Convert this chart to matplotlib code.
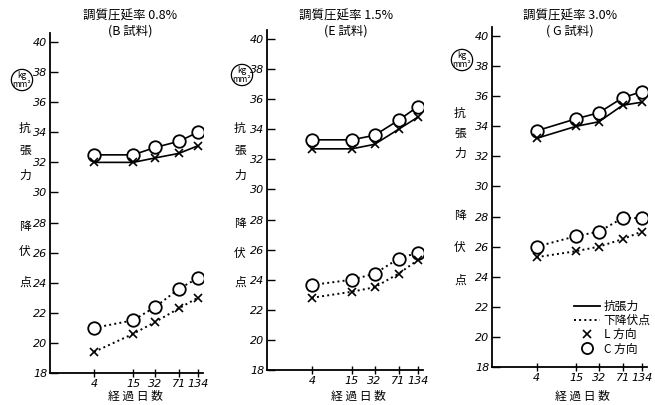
import matplotlib
matplotlib.use("Agg")
import matplotlib.pyplot as plt
from matplotlib.lines import Line2D

plt.rcParams['font.family'] = ['Noto Sans CJK JP', 'DejaVu Sans']

days = [4, 15, 32, 71, 134]
day_labels = ['4', '15', '32', '71', '134']
yticks = [18, 20, 22, 24, 26, 28, 30, 32, 34, 36, 38, 40]

titles = ['調質圧延率 0.8%\n(B 試料)', '調質圧延率 1.5%\n(E 試料)', '調質圧延率 3.0%\n( G 試料)']

# tensile strength, kg/mm2 (C = circles, L = crosses)
tens_C = [[32.5, 32.5, 33.0, 33.4, 34.0],
          [33.3, 33.3, 33.6, 34.6, 35.5],
          [33.7, 34.5, 34.9, 35.9, 36.3]]
tens_L = [[32.0, 32.0, 32.3, 32.6, 33.1],
          [32.7, 32.7, 33.0, 34.0, 34.8],
          [33.2, 34.0, 34.3, 35.4, 35.6]]
# lower yield point
yld_C = [[21.0, 21.5, 22.4, 23.6, 24.3],
         [23.65, 24.0, 24.4, 25.4, 25.8],
         [26.0, 26.7, 27.0, 27.9, 27.9]]
yld_L = [[19.4, 20.6, 21.4, 22.3, 23.0],
         [22.8, 23.2, 23.5, 24.4, 25.3],
         [25.3, 25.7, 26.0, 26.5, 27.0]]

W, H = 655, 405
fig = plt.figure(figsize=(6.55, 4.05), dpi=100)

# left px, bottom px (of y=18), width px
boxes = [(50, 373, 153), (267, 370, 156), (492, 367, 155)]
title_x = [130, 346, 570]
xlabel_x = [135, 358, 582]
side_x = [25, 240, 460]
unit_pos = [(22, 80), (242, 75), (462, 60)]
tens_y = [(128, 150, 175), (128, 150, 175), (113, 133, 153)]
yld_y = [(227, 252, 282), (223, 253, 282), (215, 248, 280)]

axes = []
for i, (lx, by, w) in enumerate(boxes):
    ax = fig.add_axes([lx / W, (H - by) / H, w / W, 340 / H])
    axes.append(ax)
    ax.set_xscale('log')
    ax.set_xlim(0.9, 160)
    ax.set_ylim(18, 40.6)
    ax.spines['right'].set_color('none')
    ax.spines['top'].set_color('none')
    ax.spines['left'].set_linewidth(1.3)
    ax.spines['bottom'].set_linewidth(1.3)
    ax.set_xticks(days)
    ax.set_xticklabels(day_labels, fontstyle='italic', fontsize=8,
                       family='DejaVu Sans')
    ax.set_xticks([], minor=True)
    ax.set_yticks(yticks)
    ax.set_yticklabels([str(t) for t in yticks], fontstyle='italic', fontsize=8,
                       family='DejaVu Sans')
    ax.tick_params(axis='y', direction='in', length=6, width=1, pad=2)
    ax.tick_params(axis='x', direction='inout', length=6, width=1, pad=1)

    ax.plot(days, tens_C[i], '-', color='black', lw=1.2, marker='o',
            mfc='white', mec='black', ms=9, mew=1.3)
    ax.plot(days, tens_L[i], '-', color='black', lw=1.2, marker='x',
            ms=6, mew=1.2)
    ax.plot(days, yld_C[i], ':', color='black', lw=1.4, marker='o',
            mfc='white', mec='black', ms=9, mew=1.3)
    ax.plot(days, yld_L[i], ':', color='black', lw=1.4, marker='x',
            ms=6, mew=1.2)

    fig.text(title_x[i] / W, 1 - 10 / H, titles[i], ha='center', va='top',
             fontsize=9, linespacing=1.15)
    fig.text(xlabel_x[i] / W, 1 - 396 / H, '経 過 日 数', ha='center',
             va='center', fontsize=8.5)
    for ch, yy in zip('抗張力', tens_y[i]):
        fig.text(side_x[i] / W, 1 - yy / H, ch, ha='center', va='center',
                 fontsize=8.5)
    for ch, yy in zip('降伏点', yld_y[i]):
        fig.text(side_x[i] / W, 1 - yy / H, ch, ha='center', va='center',
                 fontsize=8.5)
    ux, uy = unit_pos[i]
    fig.text(ux / W, 1 - uy / H, 'kg\nmm²', ha='center', va='center',
             fontsize=6, linespacing=0.9,
             bbox=dict(boxstyle='circle,pad=0.15', fc='none', ec='black', lw=0.9))

handles = [Line2D([], [], color='black', lw=1.3, ls='-'),
           Line2D([], [], color='black', lw=1.4, ls=':'),
           Line2D([], [], color='black', ls='none', marker='x', ms=6, mew=1.2),
           Line2D([], [], color='black', ls='none', marker='o', mfc='white',
                  ms=8, mew=1.3)]
fig.legend(handles, ['抗張力', '下降伏点', 'L 方向', 'C 方向'],
           loc='upper left', bbox_to_anchor=(574 / W, 1 - 300 / H),
           frameon=False, fontsize=8.5, handlelength=2.2, handletextpad=0.3,
           labelspacing=0.1, borderpad=0, borderaxespad=0)

fig.savefig('out.png', dpi=100)
